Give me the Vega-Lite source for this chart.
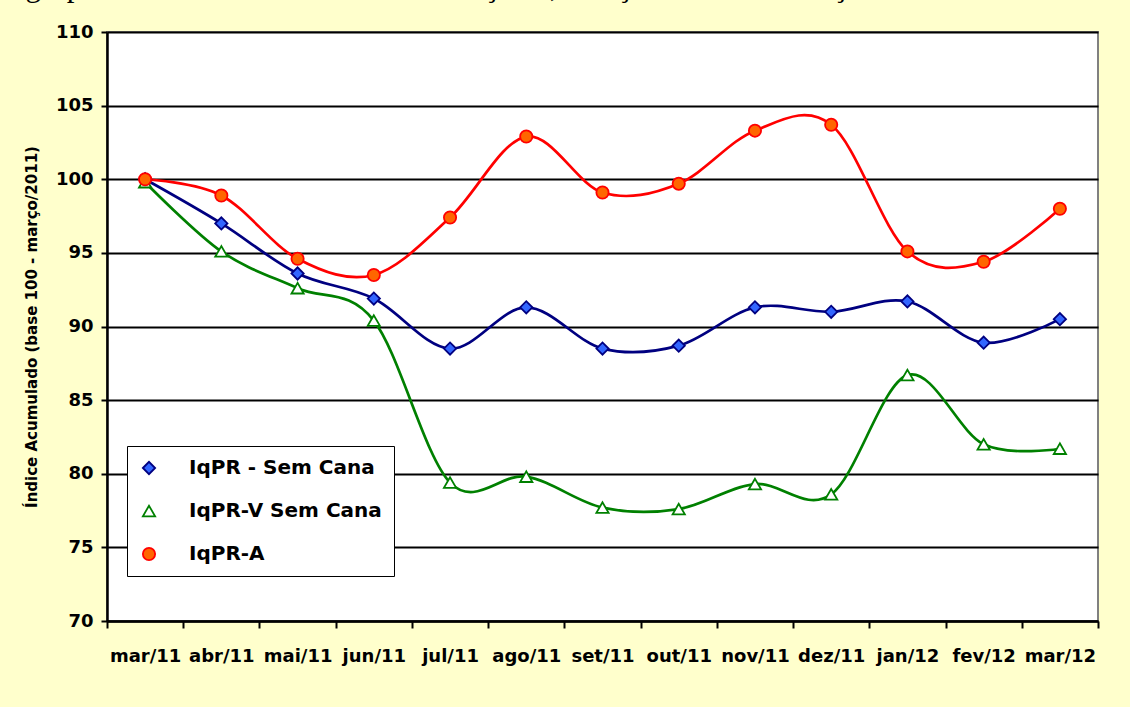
{
  "$schema": "https://vega.github.io/schema/vega-lite/v6.json",
  "width": 991,
  "height": 589,
  "autosize": "none",
  "padding": {"left": 107, "top": 32, "right": 32, "bottom": 86},
  "background": "#FFFFCC",
  "title": {
    "text": "Agropecuária Paulista Sem Cana-de-Açúcar, Março de 2011 a Março de 2012.",
    "font": "Liberation Serif",
    "fontSize": 31,
    "fontWeight": "normal",
    "color": "black",
    "anchor": "start",
    "frame": "group",
    "dx": -104,
    "dy": 10,
    "offset": 6,
    "baseline": "alphabetic"
  },
  "config": {
    "view": {"fill": "white", "stroke": "#808080", "strokeWidth": 2},
    "axis": {
      "labelFont": "DejaVu Sans",
      "labelFontWeight": "bold",
      "labelFontSize": 18,
      "labelColor": "black",
      "titleFont": "DejaVu Sans",
      "titleFontWeight": "bold",
      "titleColor": "black",
      "domainColor": "black",
      "tickColor": "black"
    },
    "legend": {
      "labelFont": "DejaVu Sans",
      "labelFontWeight": "bold",
      "labelFontSize": 20,
      "labelColor": "black",
      "labelLimit": 400,
      "strokeColor": "black",
      "fillColor": "white",
      "padding": 12,
      "labelOffset": 30,
      "rowPadding": 23,
      "symbolSize": 150,
      "symbolStrokeWidth": 1.8
    }
  },
  "data": {
    "values": [
      {"month": "mar/11", "series": "IqPR - Sem Cana", "value": 100.0},
      {"month": "abr/11", "series": "IqPR - Sem Cana", "value": 97.0},
      {"month": "mai/11", "series": "IqPR - Sem Cana", "value": 93.6},
      {"month": "jun/11", "series": "IqPR - Sem Cana", "value": 91.9},
      {"month": "jul/11", "series": "IqPR - Sem Cana", "value": 88.5},
      {"month": "ago/11", "series": "IqPR - Sem Cana", "value": 91.3},
      {"month": "set/11", "series": "IqPR - Sem Cana", "value": 88.5},
      {"month": "out/11", "series": "IqPR - Sem Cana", "value": 88.7},
      {"month": "nov/11", "series": "IqPR - Sem Cana", "value": 91.3},
      {"month": "dez/11", "series": "IqPR - Sem Cana", "value": 91.0},
      {"month": "jan/12", "series": "IqPR - Sem Cana", "value": 91.7},
      {"month": "fev/12", "series": "IqPR - Sem Cana", "value": 88.9},
      {"month": "mar/12", "series": "IqPR - Sem Cana", "value": 90.5},
      {"month": "mar/11", "series": "IqPR-V Sem Cana", "value": 99.8},
      {"month": "abr/11", "series": "IqPR-V Sem Cana", "value": 95.1},
      {"month": "mai/11", "series": "IqPR-V Sem Cana", "value": 92.6},
      {"month": "jun/11", "series": "IqPR-V Sem Cana", "value": 90.4},
      {"month": "jul/11", "series": "IqPR-V Sem Cana", "value": 79.4},
      {"month": "ago/11", "series": "IqPR-V Sem Cana", "value": 79.8},
      {"month": "set/11", "series": "IqPR-V Sem Cana", "value": 77.7},
      {"month": "out/11", "series": "IqPR-V Sem Cana", "value": 77.6},
      {"month": "nov/11", "series": "IqPR-V Sem Cana", "value": 79.3},
      {"month": "dez/11", "series": "IqPR-V Sem Cana", "value": 78.6},
      {"month": "jan/12", "series": "IqPR-V Sem Cana", "value": 86.7},
      {"month": "fev/12", "series": "IqPR-V Sem Cana", "value": 82.0},
      {"month": "mar/12", "series": "IqPR-V Sem Cana", "value": 81.7},
      {"month": "mar/11", "series": "IqPR-A", "value": 100.0},
      {"month": "abr/11", "series": "IqPR-A", "value": 98.9},
      {"month": "mai/11", "series": "IqPR-A", "value": 94.6},
      {"month": "jun/11", "series": "IqPR-A", "value": 93.5},
      {"month": "jul/11", "series": "IqPR-A", "value": 97.4},
      {"month": "ago/11", "series": "IqPR-A", "value": 102.9},
      {"month": "set/11", "series": "IqPR-A", "value": 99.1},
      {"month": "out/11", "series": "IqPR-A", "value": 99.7},
      {"month": "nov/11", "series": "IqPR-A", "value": 103.3},
      {"month": "dez/11", "series": "IqPR-A", "value": 103.7},
      {"month": "jan/12", "series": "IqPR-A", "value": 95.1},
      {"month": "fev/12", "series": "IqPR-A", "value": 94.4},
      {"month": "mar/12", "series": "IqPR-A", "value": 98.0}
    ]
  },
  "encoding": {
    "x": {
      "field": "month",
      "type": "nominal",
      "sort": ["mar/11", "abr/11", "mai/11", "jun/11", "jul/11", "ago/11", "set/11", "out/11", "nov/11", "dez/11", "jan/12", "fev/12", "mar/12"],
      "scale": {"type": "band", "paddingInner": 0, "paddingOuter": 0},
      "axis": {
        "title": null,
        "labelAngle": 0,
        "tickBand": "extent",
        "tickSize": 7,
        "tickWidth": 2,
        "domainWidth": 2.5,
        "labelPadding": 19,
        "grid": false
      }
    },
    "y": {
      "field": "value",
      "type": "quantitative",
      "scale": {"domain": [70, 110], "nice": false, "zero": false},
      "axis": {
        "title": "Índice Acumulado (base 100 - março/2011)",
        "titleFontSize": 15,
        "titlePadding": 16,
        "values": [70, 75, 80, 85, 90, 95, 100, 105, 110],
        "grid": true,
        "gridColor": "black",
        "gridWidth": 2,
        "tickSize": 6,
        "tickWidth": 2,
        "domainWidth": 2.5,
        "labelPadding": 8
      }
    }
  },
  "layer": [
    {
      "mark": {"type": "line", "interpolate": "cardinal", "strokeWidth": 2.7},
      "encoding": {
        "stroke": {
          "field": "series",
          "type": "nominal",
          "title": null,
          "scale": {"domain": ["IqPR - Sem Cana", "IqPR-V Sem Cana", "IqPR-A"], "range": ["#000080", "#008000", "#FF0000"]}
        }
      }
    },
    {
      "mark": {"type": "point", "filled": true, "strokeWidth": 1.8, "size": 150, "opacity": 1},
      "encoding": {
        "shape": {
          "field": "series",
          "type": "nominal",
          "title": null,
          "scale": {"domain": ["IqPR - Sem Cana", "IqPR-V Sem Cana", "IqPR-A"], "range": ["diamond", "triangle-up", "circle"]},
          "legend": {
            "title": null,
            "orient": "none",
            "legendX": 20,
            "legendY": 414,
            "symbolType": "circle",
            "encode": {
              "symbols": {
                "size": {"value": 150},
                "strokeWidth": {"value": 1.8}
              }
            }
          }
        },
        "fill": {
          "field": "series",
          "type": "nominal",
          "title": null,
          "scale": {"domain": ["IqPR - Sem Cana", "IqPR-V Sem Cana", "IqPR-A"], "range": ["#3366FF", "#FFFFFF", "#FF6600"]}
        },
        "stroke": {
          "field": "series",
          "type": "nominal",
          "title": null,
          "scale": {"domain": ["IqPR - Sem Cana", "IqPR-V Sem Cana", "IqPR-A"], "range": ["#000080", "#008000", "#FF0000"]}
        }
      }
    }
  ]
}
